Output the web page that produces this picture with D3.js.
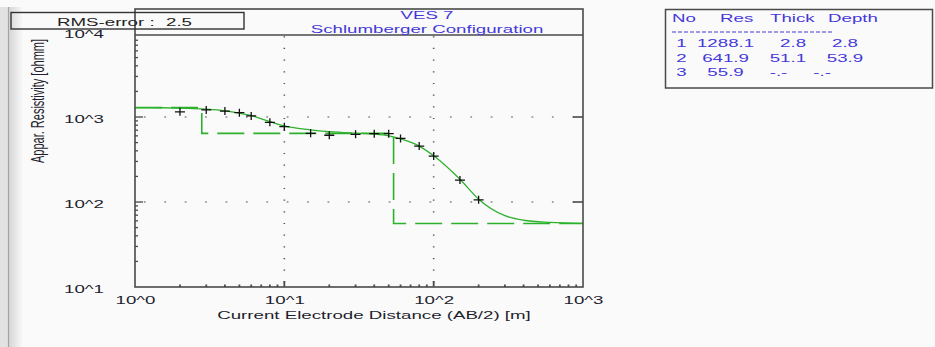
<!DOCTYPE html>
<html>
<head>
<meta charset="utf-8">
<script src="https://cdn.jsdelivr.net/npm/d3@7"></script>
<style>
  html, body { margin: 0; padding: 0; background: #fafafa; }
  svg { display: block; }
  text { font-family: "Liberation Sans", Arial, sans-serif; font-size: 11px; }
</style>
</head>
<body>
<svg id="chart" width="935" height="347"></svg>
<script>
// measured apparent resistivity (crosses)
const obsAB = [2, 3, 4, 5, 6, 8, 10, 15, 20, 30, 40, 50, 60, 80, 100, 150, 200];
const obsRho = [1150, 1210, 1175, 1125, 1030, 865, 770, 643, 610, 625, 637, 637, 560, 455, 347, 181, 106];

// fitted curve (solid green)
const fitAB = [1, 1.5, 2, 3, 4, 5, 6, 8, 10, 15, 20, 30, 40, 50, 60, 80, 100, 150, 200, 300, 400, 600, 1000];
const fitRho = [1288, 1285, 1275, 1235, 1180, 1110, 1040, 880, 785, 705, 672, 645, 630, 600, 552, 455, 350, 185, 108, 69, 61, 57.5, 56];

// layered model
const layerNo = [1, 2, 3];
const layerRes = [1288.1, 641.9, 55.9];
const layerThick = [2.8, 51.1, null];
const layerDepth = [2.8, 53.9, null];

const tableHeader = ["No", "Res", "Thick", "Depth"];
const xTickValues = [1, 10, 100, 1000];
const yTickValues = [10, 100, 1000, 10000];
const rmsError = 2.5;
const titleLines = ["VES 7", "Schlumberger Configuration"];
const xTitle = "Current Electrode Distance (AB/2) [m]";
const yTitle = "Appar. Resistivity [ohmm]";

const SX = 1.7;           // the picture is stretched sideways
const green = "#2db12d";
const frameCol = "#4a4a4a";
const blue = "#4438d8";

const svg = d3.select("#chart");
const plotLeft = 135, plotRight = 583, plotTop = 35, plotBottom = 287;

const x = d3.scaleLog().domain([1, 1000]).range([plotLeft, plotRight]);
const y = d3.scaleLog().domain([10, 10000]).range([plotBottom, 32]);

function stext(g, px, py, str, anchor, fill) {
  return g.append("text")
    .attr("transform", `translate(${px},${py}) scale(${SX},1)`)
    .attr("text-anchor", anchor || "start")
    .attr("fill", fill || "#1e1e2e")
    .text(str.replace(/ /g, "\u00a0"));
}

// left window edge
const defs = svg.append("defs");
const grad = defs.append("linearGradient").attr("id", "edge").attr("x1", 0).attr("x2", 1);
grad.append("stop").attr("offset", 0).attr("stop-color", "#d6d6d6");
grad.append("stop").attr("offset", 1).attr("stop-color", "#fafafa");
svg.append("rect").attr("x", 0).attr("y", 7).attr("width", 8).attr("height", 340).attr("fill", "#e2e2e2");
svg.append("rect").attr("x", 9).attr("y", 7).attr("width", 14).attr("height", 340).attr("fill", "url(#edge)");
svg.append("line").attr("x1", 8.5).attr("x2", 8.5).attr("y1", 7).attr("y2", 347)
  .attr("stroke", "#a4a4a4").attr("stroke-width", 1.2);

// grid (dotted)
const grid = svg.append("g");
[100, 1000].forEach(v => {
  grid.append("line").attr("x1", plotLeft).attr("x2", plotRight).attr("y1", y(v)).attr("y2", y(v))
    .attr("stroke", "#555").attr("stroke-width", 1.2)
    .attr("stroke-dasharray", "1.8,18.6").attr("stroke-dashoffset", 11.5);
});
[10, 100].forEach(v => {
  grid.append("line").attr("x1", x(v)).attr("x2", x(v)).attr("y1", plotTop).attr("y2", plotBottom)
    .attr("stroke", "#555").attr("stroke-width", 1.6)
    .attr("stroke-dasharray", "1.2,10.47").attr("stroke-dashoffset", -1.2);
});

// model (dashed step line)
const modelPts = layerRes.map((r, i) => [i === 0 ? 1 : layerDepth[i - 1], r]);
modelPts.push([1000, layerRes[layerRes.length - 1]]);
svg.append("path")
  .attr("d", d3.line().x(d => x(d[0])).y(d => y(d[1])).curve(d3.curveStepAfter)(modelPts))
  .attr("fill", "none").attr("stroke", green).attr("stroke-width", 1.6)
  .attr("stroke-dasharray", "27,9");

// fitted curve
svg.append("path")
  .attr("d", d3.line().x((d, i) => x(fitAB[i])).y(d => y(d)).curve(d3.curveMonotoneX)(fitRho))
  .attr("fill", "none").attr("stroke", green).attr("stroke-width", 1.3);

// crosses
svg.append("g").selectAll("path").data(obsRho).join("path")
  .attr("d", (d, i) => {
    const cx = x(obsAB[i]), cy = y(d);
    return `M${cx - 5},${cy}H${cx + 5}M${cx},${cy - 4}V${cy + 4}`;
  })
  .attr("stroke", "#111").attr("stroke-width", 1.3).attr("fill", "none");

// frame
svg.append("rect").attr("x", plotLeft).attr("y", 9).attr("width", plotRight - plotLeft).attr("height", plotBottom - 9)
  .attr("fill", "none").attr("stroke", frameCol).attr("stroke-width", 1.6);
svg.append("line").attr("x1", plotLeft).attr("x2", plotRight).attr("y1", plotTop).attr("y2", plotTop)
  .attr("stroke", frameCol).attr("stroke-width", 1.4);

// ticks
const ticks = svg.append("g").attr("stroke", frameCol);
const isDecade = v => Math.abs(Math.log10(v) - Math.round(Math.log10(v))) < 1e-9;
y.ticks().filter(v => y(v) > plotTop + 1 && y(v) < plotBottom - 1).forEach(v => {
  const len = isDecade(v) ? 8 : 3;
  ticks.append("line").attr("x1", plotLeft).attr("x2", plotLeft + len).attr("y1", y(v)).attr("y2", y(v))
    .attr("stroke-width", 1.3);
  if (isDecade(v)) {
    ticks.append("line").attr("x1", plotRight - 10).attr("x2", plotRight).attr("y1", y(v)).attr("y2", y(v))
      .attr("stroke-width", 1.6);
  }
});
x.ticks().filter(v => x(v) > plotLeft + 1 && x(v) < plotRight - 1).forEach(v => {
  const len = isDecade(v) ? 6 : 2.5;
  ticks.append("line").attr("x1", x(v)).attr("x2", x(v)).attr("y1", plotBottom).attr("y2", plotBottom - len)
    .attr("stroke-width", 1.8);
});

// axis labels
const fmt = v => "10^" + Math.round(Math.log10(v));
const xAxis = svg.append("g").attr("transform", `translate(0,${plotBottom})`)
  .call(d3.axisBottom(x).tickValues(xTickValues).tickFormat(fmt).tickSize(0));
xAxis.select(".domain").remove();
xAxis.selectAll("text").attr("y", 17).attr("dy", 0)
  .attr("transform", `scale(${SX},1)`)
  .attr("font-family", "Liberation Sans, Arial, sans-serif").attr("font-size", 11)
  .attr("fill", "#1e1e2e");

const yAxis = svg.append("g").attr("transform", `translate(${plotLeft},0)`)
  .call(d3.axisLeft(y).tickValues(yTickValues).tickFormat(fmt).tickSize(0));
yAxis.select(".domain").remove();
yAxis.selectAll("text").attr("x", (84 - plotLeft) / SX).attr("dy", 0).attr("y", 5)
  .attr("text-anchor", "middle")
  .attr("transform", `scale(${SX},1)`)
  .attr("font-family", "Liberation Sans, Arial, sans-serif").attr("font-size", 11)
  .attr("fill", "#1e1e2e");

stext(svg, 374, 319, xTitle, "middle");
svg.append("text")
  .attr("transform", `translate(37,101) scale(${SX},1) rotate(-90)`)
  .attr("text-anchor", "middle").attr("dominant-baseline", "central")
  .attr("fill", "#1e1e2e")
  .text(yTitle);

// title
stext(svg, 427, 19, titleLines[0], "middle", blue);
stext(svg, 427, 33, titleLines[1], "middle", blue);

// RMS box
svg.append("rect").attr("x", 11).attr("y", 12.5).attr("width", 233).attr("height", 16.5)
  .attr("fill", "none").attr("stroke", "#333").attr("stroke-width", 1.4);
stext(svg, 57, 26, "RMS-error :", "start", "#222");
stext(svg, 166, 26, String(rmsError), "start", "#222");

// layer table
svg.append("rect").attr("x", 665.5).attr("y", 9.5).attr("width", 267).attr("height", 78.5)
  .attr("fill", "none").attr("stroke", "#4a4a4a").attr("stroke-width", 1.5);
const headX = [672, 720, 770, 828];
tableHeader.forEach((h, i) => stext(svg, headX[i], 22, h, "start", blue));
svg.append("line").attr("x1", 672).attr("x2", 832).attr("y1", 32).attr("y2", 32)
  .attr("stroke", blue).attr("stroke-width", 1).attr("stroke-dasharray", "4,2");
const cell = v => (v === null ? "-.-" : v.toFixed(1)).padStart(7);
layerNo.forEach((n, i) => {
  const row = String(n).padStart(2) + " " + cell(layerRes[i]) + " " + cell(layerThick[i]) + " " + cell(layerDepth[i]);
  stext(svg, 671, 47 + i * 14.5, row, "start", blue);
});
</script>
</body>
</html>
